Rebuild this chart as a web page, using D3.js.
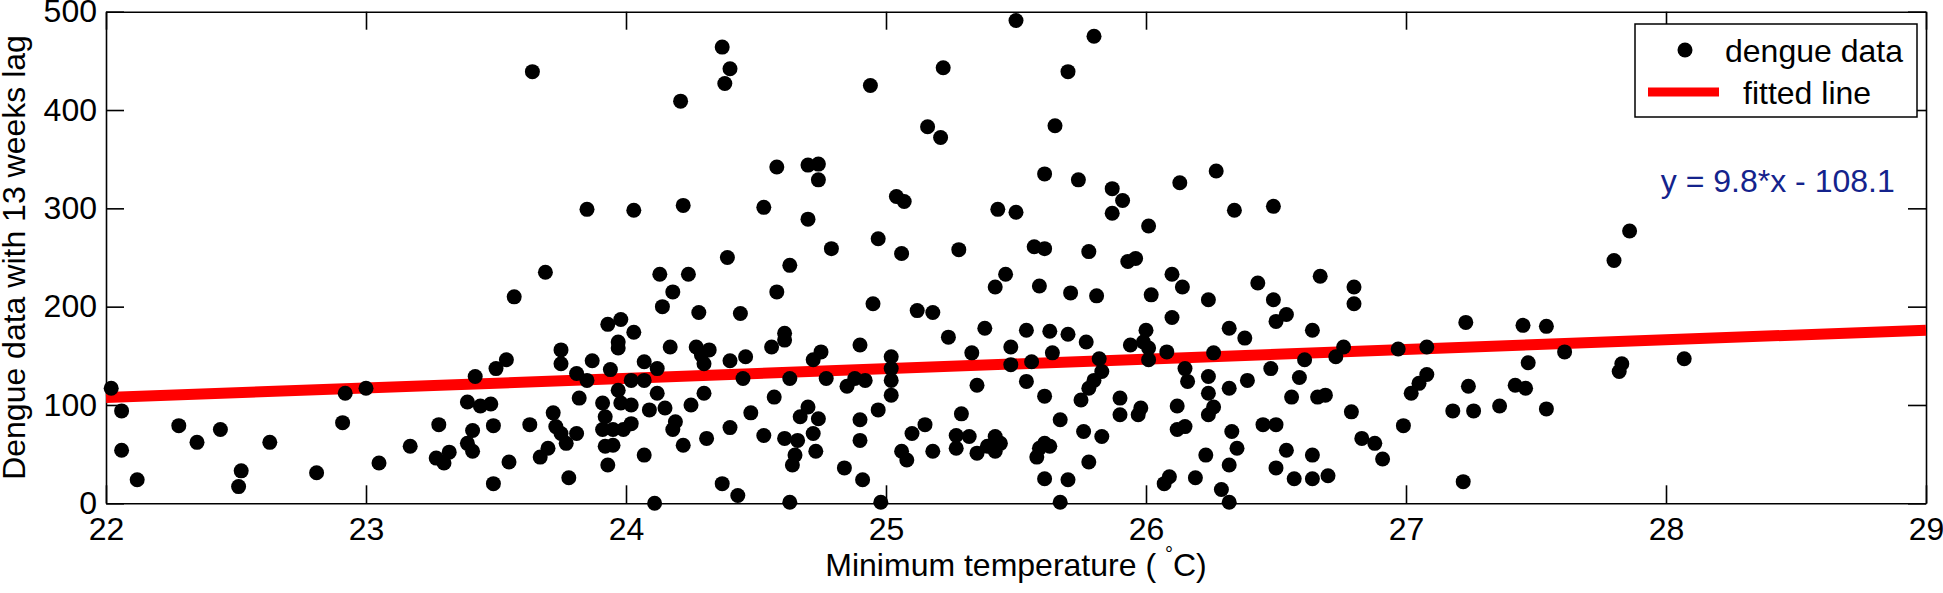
<!DOCTYPE html>
<html>
<head>
<meta charset="utf-8">
<script src="https://cdn.jsdelivr.net/npm/d3@7"></script>
<style>
  body { margin: 0; background: #fff; }
  text { font-family: Arial, "Liberation Sans", sans-serif; }
</style>
</head>
<body>
<div id="chart"></div>
<script>
// minimum temperature (deg C), grouped by region of the plot
const minTemp = [
  22.02,22.06,22.06,22.12,22.28,22.35,22.44,22.51,22.52,22.63,
  22.81,22.91,22.92,23.00,23.05,23.17,23.28,23.27,23.30,23.32,
  23.39,23.42,23.44,23.41,23.39,23.41,23.48,23.49,23.49,23.50,
  23.54,23.55,23.57,23.63,23.64,23.69,23.67,23.70,
  24.37,24.40,24.38,24.21,24.94,24.58,24.70,24.74,24.74,25.04,
  25.07,23.85,24.03,24.22,24.53,24.70,24.97,24.79,25.06,24.39,
  24.63,24.13,24.24,24.18,24.58,24.14,24.28,24.44,24.95,25.12,
  23.93,23.98,24.03,23.97,23.97,23.75,23.75,23.87,24.17,24.27,
  24.29,24.32,24.30,24.40,24.46,24.56,24.61,24.61,24.72,24.75,
  24.90,25.02,23.81,23.85,23.94,24.02,24.07,24.12,24.07,24.45,
  24.63,24.77,24.85,24.88,24.92,25.02,25.02,25.02,23.82,24.12,
  24.30,24.57,24.25,23.97,23.98,24.02,23.91,23.92,24.09,24.15,
  24.48,24.70,24.67,24.74,24.97,23.72,23.73,23.75,23.77,23.81,
  24.02,23.91,23.95,23.99,24.19,24.18,24.40,24.53,24.61,24.66,
  24.72,24.90,24.90,23.92,23.95,24.22,24.31,24.07,24.65,24.64,
  24.73,25.06,25.08,25.10,23.93,23.78,24.84,24.91,24.37,24.43,
  24.11,24.63,24.98,
  25.50,25.80,25.22,25.70,25.16,25.21,25.65,25.61,25.74,25.87,
  25.91,25.87,26.13,26.27,25.43,25.50,26.34,26.49,26.01,25.28,
  25.57,25.61,25.78,25.93,25.96,25.46,25.42,25.59,25.71,25.81,
  26.02,26.10,26.14,26.24,26.43,26.49,26.10,26.50,25.18,25.24,
  25.38,25.54,25.63,25.70,25.77,26.00,25.99,25.94,26.01,26.32,
  26.38,25.33,25.48,25.48,25.64,25.56,25.82,25.83,25.80,25.78,
  25.75,26.08,26.26,26.01,26.15,26.16,26.24,26.24,26.39,26.32,
  26.48,25.35,25.54,25.61,25.90,25.90,25.98,25.97,26.12,26.26,
  26.24,25.29,25.67,26.12,26.15,25.76,25.83,26.33,26.45,26.35,
  26.50,25.27,25.32,25.27,25.35,25.39,25.42,25.44,25.42,25.61,
  25.63,25.59,25.58,25.78,26.23,26.32,26.50,25.15,25.18,25.61,
  25.70,25.67,26.07,26.09,26.19,26.29,26.32,
  26.54,26.67,26.80,26.80,26.64,26.76,26.73,26.61,26.59,26.56,
  26.66,26.69,26.79,26.54,26.64,26.57,26.64,26.70,26.83,26.88,
  26.91,26.97,27.08,27.08,27.05,27.02,26.99,27.23,27.24,27.18,
  27.26,27.22,27.36,27.45,27.54,27.47,27.42,27.46,27.54,27.61,
  27.80,27.86,27.83,27.82,28.07
];

// dengue cases with 13 weeks lag, same order as minTemp
const dengueLag = [
  117,94,54,24,79,62,75,17,33,62,
  31,82,112,117,41,58,80,46,41,52,
  103,129,99,74,61,53,101,79,20,137,
  146,42,210,80,439,235,47,56,
  464,442,427,409,425,342,344,345,329,312,
  307,299,298,303,301,289,269,259,254,250,
  242,233,233,215,215,200,194,193,203,196,
  182,187,174,164,158,156,142,145,159,159,
  151,156,142,145,149,159,173,166,146,154,
  161,149,132,125,136,125,144,137,125,127,
  127,127,119,127,125,137,125,110,107,112,
  112,108,100,115,102,100,102,88,95,97,
  92,98,88,86,95,92,78,71,61,71,
  81,75,75,75,83,75,77,69,66,64,
  71,85,64,58,59,59,66,49,49,39,
  53,53,44,71,39,26,36,24,20,8,
  0,1,1,
  491,475,443,439,383,372,384,335,329,320,
  308,295,326,338,299,296,298,302,282,258,
  261,259,256,246,249,233,220,221,214,211,
  212,233,220,207,224,207,189,185,194,169,
  178,176,175,172,164,176,164,161,158,178,
  168,153,159,141,153,144,147,134,125,117,
  105,154,153,146,137,124,129,112,125,117,
  137,120,124,109,107,90,97,90,99,98,
  90,91,85,75,78,73,68,73,80,56,
  80,69,68,56,51,58,68,61,53,61,
  58,56,47,42,49,39,36,80,53,25,
  24,1,20,27,26,14,1,
  192,231,220,203,176,159,149,146,128,108,
  108,110,93,54,49,25,25,28,66,61,
  45,157,159,131,122,112,79,184,119,94,
  94,22,99,181,180,143,120,117,96,154,
  247,277,142,134,147
];

// fitted line end points and label
const fitX = [22, 29];
const fitY = [107.5, 176.1];
const fitLabel = "y = 9.8*x - 108.1";

const xTicks = [22, 23, 24, 25, 26, 27, 28, 29];
const yTicks = [0, 100, 200, 300, 400, 500];
const legendLabels = ["dengue data", "fitted line"];

class ScatterFit {

    constructor(DOMElement, width, height, margins) {
        this.DOMElement = DOMElement;
        this.width = width;
        this.height = height;
        this.margins = margins;
    }

    draw() {
        this.w = this.width - (this.margins.left + this.margins.right);
        this.h = this.height - (this.margins.top + this.margins.bottom);

        const svgRoot = d3.select(this.DOMElement)
            .append("svg")
            .attr("width", this.width)
            .attr("height", this.height);
        this.svg = svgRoot.append("g")
            .attr("transform", "translate(" + this.margins.left + "," + this.margins.top + ")");

        const x = d3.scaleLinear().domain([22, 29]).range([0, this.w]);
        const y = d3.scaleLinear().domain([0, 500]).range([this.h, 0]);

        // axes box, ticks pointing inward
        const styleAxis = g => {
            g.selectAll("path").attr("stroke", "#000").attr("stroke-width", 1.6);
            g.selectAll("line").attr("stroke", "#000").attr("stroke-width", 1.6);
            g.selectAll("text").attr("fill", "#000").style("font-size", "32px");
        };
        this.svg.append("g")
            .attr("transform", "translate(0," + this.h + ")")
            .call(d3.axisBottom(x).tickValues(xTicks).tickFormat(d3.format("d"))
                .tickSizeInner(-18).tickSizeOuter(0).tickPadding(14))
            .call(styleAxis)
            .attr("font-family", null);
        this.svg.append("g")
            .call(d3.axisTop(x).tickValues(xTicks).tickSizeInner(-18).tickSizeOuter(0).tickFormat(""))
            .call(styleAxis);
        this.svg.append("g")
            .call(d3.axisLeft(y).tickValues(yTicks).tickSizeInner(-18).tickSizeOuter(0).tickPadding(9))
            .call(styleAxis)
            .attr("font-family", null);
        this.svg.append("g")
            .attr("transform", "translate(" + this.w + ",0)")
            .call(d3.axisRight(y).tickValues(yTicks).tickSizeInner(-18).tickSizeOuter(0).tickFormat(""))
            .call(styleAxis);

        // fitted line
        const fit = fitX.map((d, i) => [d, fitY[i]]);
        this.svg.append("path")
            .datum(fit)
            .attr("fill", "none")
            .attr("stroke", "#ff0000")
            .attr("stroke-width", 11)
            .attr("d", d3.line().x(d => x(d[0])).y(d => y(d[1])));

        // data points
        this.svg.selectAll(".dot")
            .data(minTemp.map((t, i) => ({ t: t, v: dengueLag[i] })))
            .enter()
            .append("circle")
            .attr("class", "dot")
            .attr("cx", d => x(d.t))
            .attr("cy", d => y(d.v))
            .attr("r", 7.5)
            .attr("fill", "#000");

        // equation
        this.svg.append("text")
            .attr("x", x(27.98))
            .attr("y", y(317))
            .attr("fill", "#14238c")
            .style("font-size", "32px")
            .text(fitLabel);

        // axis titles
        const xt = svgRoot.append("text")
            .attr("x", this.margins.left + this.w / 2)
            .attr("y", 576)
            .attr("text-anchor", "middle")
            .style("font-size", "32px")
            .text("Minimum temperature ( ");
        xt.append("tspan").attr("dy", -15).style("font-size", "20px").text("\u00b0");
        xt.append("tspan").attr("dy", 15).text("C)");

        svgRoot.append("text")
            .attr("transform", "translate(25," + (this.margins.top + this.h / 2) + ") rotate(-90)")
            .attr("text-anchor", "middle")
            .style("font-size", "32px")
            .text("Dengue data with 13 weeks lag");

        // legend
        const lg = svgRoot.append("g").attr("transform", "translate(1635,24)");
        lg.append("rect")
            .attr("width", 282).attr("height", 93)
            .attr("fill", "#fff").attr("stroke", "#000").attr("stroke-width", 1.5);
        lg.append("circle").attr("cx", 50).attr("cy", 26).attr("r", 7.5).attr("fill", "#000");
        lg.append("line")
            .attr("x1", 13).attr("x2", 84).attr("y1", 68).attr("y2", 68)
            .attr("stroke", "#ff0000").attr("stroke-width", 9);
        lg.append("text").attr("x", 90).attr("y", 38).style("font-size", "32px").text(legendLabels[0]);
        lg.append("text").attr("x", 108).attr("y", 80).style("font-size", "32px").text(legendLabels[1]);
    }
}

const chart = new ScatterFit(document.getElementById("chart"), 1943, 593,
    { left: 106, right: 17, top: 11.7, bottom: 89.7 });
chart.draw();
</script>
</body>
</html>
